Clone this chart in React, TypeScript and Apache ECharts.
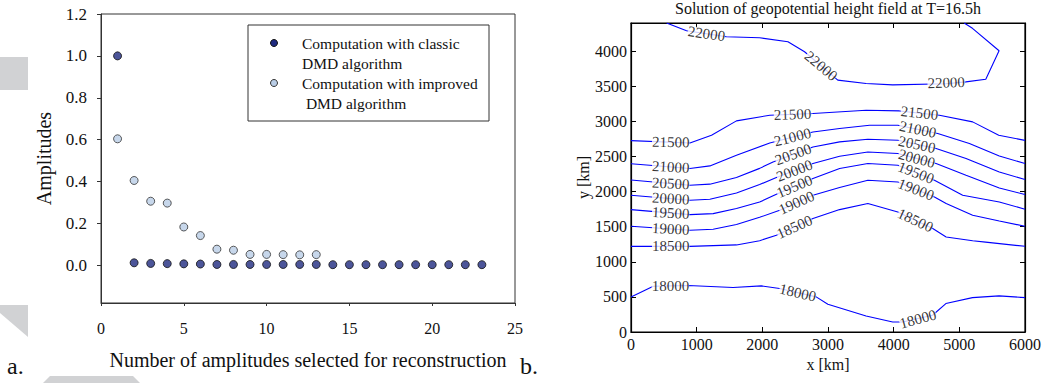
import React, { useEffect, useRef } from "react";
import * as echarts from "echarts";

// ---------- Panel a: DMD amplitudes ----------
const ampIndex = [1, 2, 3, 4, 5, 6, 7, 8, 9, 10, 11, 12, 13, 14, 15, 16, 17, 18, 19, 20, 21, 22, 23];
const classicAmp = [1.0, 0.012, 0.009, 0.008, 0.007, 0.006, 0.004, 0.004, 0.004, 0.004, 0.004, 0.004, 0.004, 0.003, 0.003, 0.003, 0.003, 0.003, 0.003, 0.003, 0.003, 0.003, 0.003];
const improvedIndex = [1, 2, 3, 4, 5, 6, 7, 8, 9, 10, 11, 12, 13];
const improvedAmp = [0.604, 0.405, 0.306, 0.297, 0.183, 0.142, 0.077, 0.072, 0.052, 0.052, 0.051, 0.05, 0.051];
const ampTicks = [0, 0.2, 0.4, 0.6, 0.8, 1.0, 1.2];
const legendLines = ["Computation with classic", "DMD algorithm", "Computation with improved", " DMD algorithm"];

// ---------- Panel b: geopotential height contours ----------
const c18000 = [[0, 500], [339, 652], [871, 662], [1554, 633], [1985, 657], [2263, 619], [2820, 500], [2998, 395], [3580, 229], [3985, 143], [4137, 143], [4592, 238], [4795, 405], [5200, 490], [5605, 514], [6000, 490]];
const c18500 = [[0, 1219], [896, 1219], [1606, 1240], [1959, 1300], [2214, 1377], [2771, 1615], [3177, 1743], [3607, 1829], [4063, 1709], [4595, 1473], [4799, 1353], [5203, 1300], [5400, 1280], [6000, 1220]];
const c19000 = [[0, 1506], [896, 1449], [1251, 1463], [1606, 1530], [1959, 1633], [2265, 1734], [2771, 1947], [3177, 2057], [3607, 2161], [4063, 2137], [4621, 1923], [4799, 1829], [5203, 1662], [5609, 1580], [6000, 1506]];
const c19500 = [[0, 1743], [897, 1672], [1251, 1686], [1606, 1758], [1959, 1850], [2214, 1962], [2771, 2185], [3177, 2328], [3607, 2399], [4063, 2375], [4621, 2161], [5051, 1947], [5609, 1852], [6000, 1748]];
const c20000 = [[0, 1947], [897, 1876], [1201, 1890], [1606, 1980], [1959, 2100], [2214, 2199], [2771, 2399], [3177, 2503], [3607, 2564], [4063, 2541], [4646, 2399], [5102, 2232], [5609, 2050], [6000, 1957]];
const c20500 = [[0, 2165], [897, 2090], [1201, 2105], [1606, 2199], [1959, 2330], [2163, 2422], [2771, 2635], [3177, 2707], [3607, 2745], [4063, 2731], [4646, 2612], [5102, 2470], [5609, 2279], [6000, 2171]];
const c21000 = [[0, 2395], [897, 2328], [1201, 2365], [1606, 2517], [2113, 2692], [2771, 2849], [3177, 2897], [3633, 2944], [4063, 2944], [4671, 2826], [5153, 2684], [5609, 2505], [6000, 2399]];
const c21500 = [[0, 2725], [897, 2692], [1226, 2802], [1606, 3006], [2113, 3087], [2771, 3111], [3580, 3157], [4089, 3148], [4697, 3087], [5203, 2992], [5600, 2802], [6000, 2729]];
const c22000 = [[542, 4400], [846, 4290], [1453, 4205], [1959, 4190], [2390, 4133], [2643, 3990], [3149, 3586], [3580, 3538], [3985, 3519], [4798, 3535], [5099, 3562], [5403, 3600], [5605, 4005], [5200, 4324], [5073, 4400]];
const contourLevels = ["18000", "18500", "19000", "19500", "20000", "20500", "21000", "21500", "22000"];
const contourLines = [c18000, c18500, c19000, c19500, c20000, c20500, c21000, c21500, c22000];
// [x, y, text, angle]
const contourLabels: [number, number, string, number][] = [
  [600, 657, "18000", 0], [2540, 560, "18000", -13], [4370, 185, "18000", 15],
  [605, 1219, "18500", 0], [2490, 1495, "18500", 24], [4330, 1590, "18500", -25],
  [605, 1468, "19000", -3], [2520, 1841, "19000", 24], [4342, 2030, "19000", -21],
  [605, 1695, "19500", -3], [2490, 2073, "19500", 23], [4342, 2268, "19500", -21],
  [605, 1900, "20000", -3], [2490, 2298, "20000", 21], [4352, 2470, "20000", -15],
  [605, 2115, "20500", -3], [2470, 2530, "20500", 20], [4355, 2671, "20500", -12],
  [605, 2350, "21000", -3], [2460, 2775, "21000", 14], [4367, 2885, "21000", -12],
  [605, 2703, "21500", -1], [2460, 3100, "21500", 2], [4393, 3118, "21500", -6],
  [1150, 4247, "22000", -8], [2896, 3788, "22000", -40], [4800, 3550, "22000", 2],
];
const xTicksB = [0, 1000, 2000, 3000, 4000, 5000, 6000];

const SERIF = "'Liberation Serif', 'Times New Roman', serif";

export default function App() {
  const ref = useRef<HTMLDivElement>(null);
  useEffect(() => {
    if (!ref.current) return;
    const chart = echarts.init(ref.current, undefined, { renderer: "svg" });
    const axisLbl = { fontFamily: SERIF, fontSize: 16, color: "#111" };
    const plain = (v: number) => String(v);
    const option: any = {
      animation: false,
      backgroundColor: "#fff",
      grid: [
        { left: 101, top: 14, width: 414, height: 289, show: true, borderColor: "#333", borderWidth: 1 },
        { left: 631, top: 23, width: 395, height: 309, show: true, borderColor: "#000", borderWidth: 1.2 },
      ],
      xAxis: [
        {
          gridIndex: 0, type: "value", min: 0, max: 25, interval: 5,
          axisLine: { onZero: false, lineStyle: { color: "#333" } },
          axisTick: { length: 3, lineStyle: { color: "#333" } },
          splitLine: { show: false },
          axisLabel: { ...axisLbl, margin: 17 },
          name: "Number of amplitudes selected for reconstruction",
          nameLocation: "middle", nameGap: 47,
          nameTextStyle: { fontFamily: SERIF, fontSize: 20, color: "#111" },
        },
        {
          gridIndex: 1, type: "value", min: 0, max: 6000, interval: 1000, position: "bottom",
          axisLine: { onZero: false, lineStyle: { color: "#000", width: 1.2 } },
          axisTick: { inside: true, length: 5, lineStyle: { color: "#000" } },
          splitLine: { show: false },
          axisLabel: { ...axisLbl, margin: 4, customValues: xTicksB, formatter: plain },
          name: "x [km]", nameLocation: "middle", nameGap: 21,
          nameTextStyle: { fontFamily: SERIF, fontSize: 16, color: "#111" },
        },
        {
          gridIndex: 1, type: "value", min: 0, max: 6000, interval: 1000, position: "top",
          axisLine: { onZero: false, lineStyle: { color: "#000", width: 1.2 } },
          axisTick: { inside: true, length: 5, lineStyle: { color: "#000" } },
          splitLine: { show: false }, axisLabel: { show: false },
        },
      ],
      yAxis: [
        {
          gridIndex: 0, type: "value", min: -0.18, max: 1.2,
          axisLine: { show: true, onZero: false, lineStyle: { color: "#333" } },
          axisTick: { show: true, length: 4, customValues: ampTicks, lineStyle: { color: "#333" } },
          splitLine: { show: false },
          axisLabel: { ...axisLbl, fontSize: 17, margin: 14, customValues: ampTicks, formatter: (v: number) => v.toFixed(1) },
          name: "Amplitudes", nameLocation: "middle", nameGap: 47,
          nameTextStyle: { fontFamily: SERIF, fontSize: 20, color: "#111" },
        },
        {
          gridIndex: 1, type: "value", min: 0, max: 4400, interval: 500, position: "left",
          axisLine: { show: true, onZero: false, lineStyle: { color: "#000", width: 1.2 } },
          axisTick: { show: true, inside: true, length: 5, lineStyle: { color: "#000" } },
          splitLine: { show: false },
          axisLabel: { ...axisLbl, margin: 4, showMaxLabel: false, formatter: plain },
          name: "y [km]", nameLocation: "middle", nameGap: 38,
          nameTextStyle: { fontFamily: SERIF, fontSize: 16, color: "#111" },
        },
        {
          gridIndex: 1, type: "value", min: 0, max: 4400, interval: 500, position: "right",
          axisLine: { show: true, onZero: false, lineStyle: { color: "#000", width: 1.2 } },
          axisTick: { show: true, inside: true, length: 5, lineStyle: { color: "#000" } },
          splitLine: { show: false }, axisLabel: { show: false },
        },
      ],
      series: [
        {
          name: "Computation with improved DMD algorithm", type: "scatter", xAxisIndex: 0, yAxisIndex: 0,
          symbolSize: 8, z: 3,
          itemStyle: { color: "#b9cde6", borderColor: "#333", borderWidth: 1 },
          data: improvedIndex.map((x, i) => [x, improvedAmp[i]]),
        },
        {
          name: "Computation with classic DMD algorithm", type: "scatter", xAxisIndex: 0, yAxisIndex: 0,
          symbolSize: 8, z: 4,
          itemStyle: { color: "#1f2a80", borderColor: "#111", borderWidth: 1 },
          data: ampIndex.map((x, i) => [x, classicAmp[i]]),
        },
        ...contourLines.map((pts, i) => ({
          name: contourLevels[i], type: "line", xAxisIndex: 1, yAxisIndex: 1,
          showSymbol: false, symbol: "none", silent: true, z: 2,
          lineStyle: { color: "#0000ff", width: 1.1 },
          data: pts,
        })),
        {
          name: "contour labels", type: "scatter", xAxisIndex: 1, yAxisIndex: 1,
          symbolSize: 1, z: 5, silent: true,
          itemStyle: { color: "transparent" },
          data: contourLabels.map(([x, y, t, a]) => ({
            value: [x, y],
            label: {
              show: true, position: "inside", formatter: t, rotate: a,
              fontFamily: SERIF, fontSize: 15, color: "#000",
              backgroundColor: "#fff", padding: [0, 0], lineHeight: 11,
            },
          })),
        },
      ],
      graphic: [
        // page decorations
        { type: "rect", shape: { x: 0, y: 57, width: 28, height: 33 }, style: { fill: "#d1d2d4" }, silent: true },
        { type: "polygon", shape: { points: [[0, 305], [28, 305], [28, 337], [0, 313]] }, style: { fill: "#d1d2d4" }, silent: true },
        { type: "polygon", shape: { points: [[43, 383], [50, 376], [133, 376], [140, 383]] }, style: { fill: "#d1d2d4" }, silent: true },
        // legend
        { type: "rect", shape: { x: 248, y: 25, width: 241, height: 96 }, style: { fill: "#fff", stroke: "#333", lineWidth: 1 }, z: 10 },
        { type: "circle", shape: { cx: 274, cy: 43, r: 3.5 }, style: { fill: "#1f2a80", stroke: "#111", lineWidth: 1 }, z: 11 },
        { type: "circle", shape: { cx: 274, cy: 83, r: 3.5 }, style: { fill: "#b9cde6", stroke: "#333", lineWidth: 1 }, z: 11 },
        ...legendLines.map((t, i) => ({
          type: "text", x: 302, y: 43 + i * 20.3, z: 11,
          style: { text: t, fontFamily: SERIF, fontSize: 15.5, fill: "#111", verticalAlign: "middle", textAlign: "left" },
        })),
        // title and panel letters
        {
          type: "text", x: 828, y: 8, z: 11,
          style: { text: "Solution of geopotential height field at T=16.5h", fontFamily: SERIF, fontSize: 16, fill: "#111", textAlign: "center", verticalAlign: "middle" },
        },
        { type: "text", x: 7, y: 366, style: { text: "a.", fontFamily: SERIF, fontSize: 24, fill: "#111", verticalAlign: "middle" } },
        { type: "text", x: 520, y: 366, style: { text: "b.", fontFamily: SERIF, fontSize: 24, fill: "#111", verticalAlign: "middle" } },
      ],
    };
    chart.setOption(option);
    return () => chart.dispose();
  }, []);
  return <div ref={ref} style={{ position: "fixed", left: 0, top: 0, width: 1044, height: 383 }} />;
}
